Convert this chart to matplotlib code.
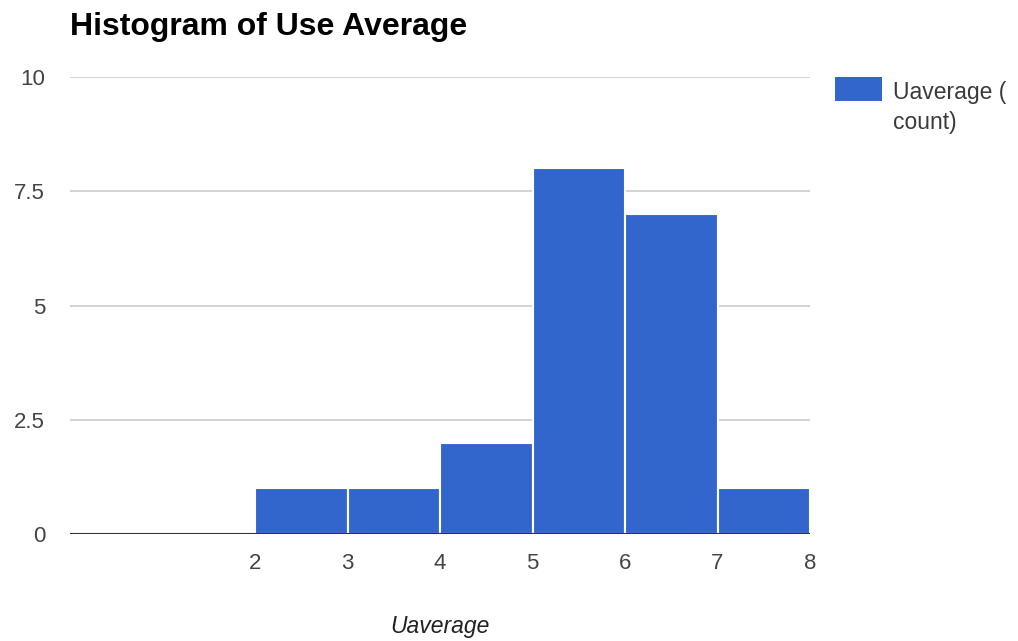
import matplotlib.pyplot as plt
from matplotlib.patches import Rectangle

plt.rcParams['font.family'] = ['Liberation Sans', 'DejaVu Sans']

# histogram bins and counts
bin_edges = [2, 3, 4, 5, 6, 7, 8]
counts = [1, 1, 2, 8, 7, 1]
y_ticks = [0, 2.5, 5, 7.5, 10]
y_tick_labels = ['0', '2.5', '5', '7.5', '10']
x_ticks = [2, 3, 4, 5, 6, 7, 8]
series_label = 'Uaverage (\ncount)'
bar_color = '#3366cc'

fig = plt.figure(figsize=(10.18, 6.41), dpi=100)
ax = fig.add_axes([70 / 1018, 1 - 534 / 641, 740 / 1018, 457 / 641])

lefts = bin_edges[:-1]
widths = [b - a for a, b in zip(bin_edges[:-1], bin_edges[1:])]
ax.bar(lefts, counts, width=widths, align='edge', color=bar_color,
       edgecolor='white', linewidth=1.5, zorder=3)

ax.set_xlim(0, 8)
ax.set_ylim(0, 10)
ax.set_yticks(y_ticks)
ax.set_yticklabels(y_tick_labels)
ax.set_xticks(x_ticks)
ax.grid(axis='y', color='#cccccc', linewidth=1.2, zorder=0)
ax.axhline(0, color='#333333', linewidth=1.5, zorder=4)
for s in ax.spines.values():
    s.set_visible(False)
ax.tick_params(length=0, labelsize=16, colors='#444444')
ax.tick_params(axis='y', pad=18)
ax.tick_params(axis='x', pad=14)

ax.set_xlabel('Uaverage', fontsize=16.5, style='italic', color='#222222', labelpad=29)
fig.text(70 / 1018, 1 - 35 / 641, 'Histogram of Use Average', fontsize=23,
         fontweight='bold', va='baseline', ha='left', color='black')

# legend drawn by hand so the swatch sits next to the first line
fig.patches.append(Rectangle((835 / 1018, 1 - 101 / 641), 47 / 1018, 24 / 641,
                             transform=fig.transFigure, facecolor=bar_color,
                             edgecolor='none'))
fig.text(893 / 1018, 1 - 129 / 641, series_label, fontsize=16.5, color='#3a3a3a',
         ha='left', va='baseline', linespacing=1.4,
         multialignment='left')

fig.savefig('out.png', dpi=100, facecolor='white')
